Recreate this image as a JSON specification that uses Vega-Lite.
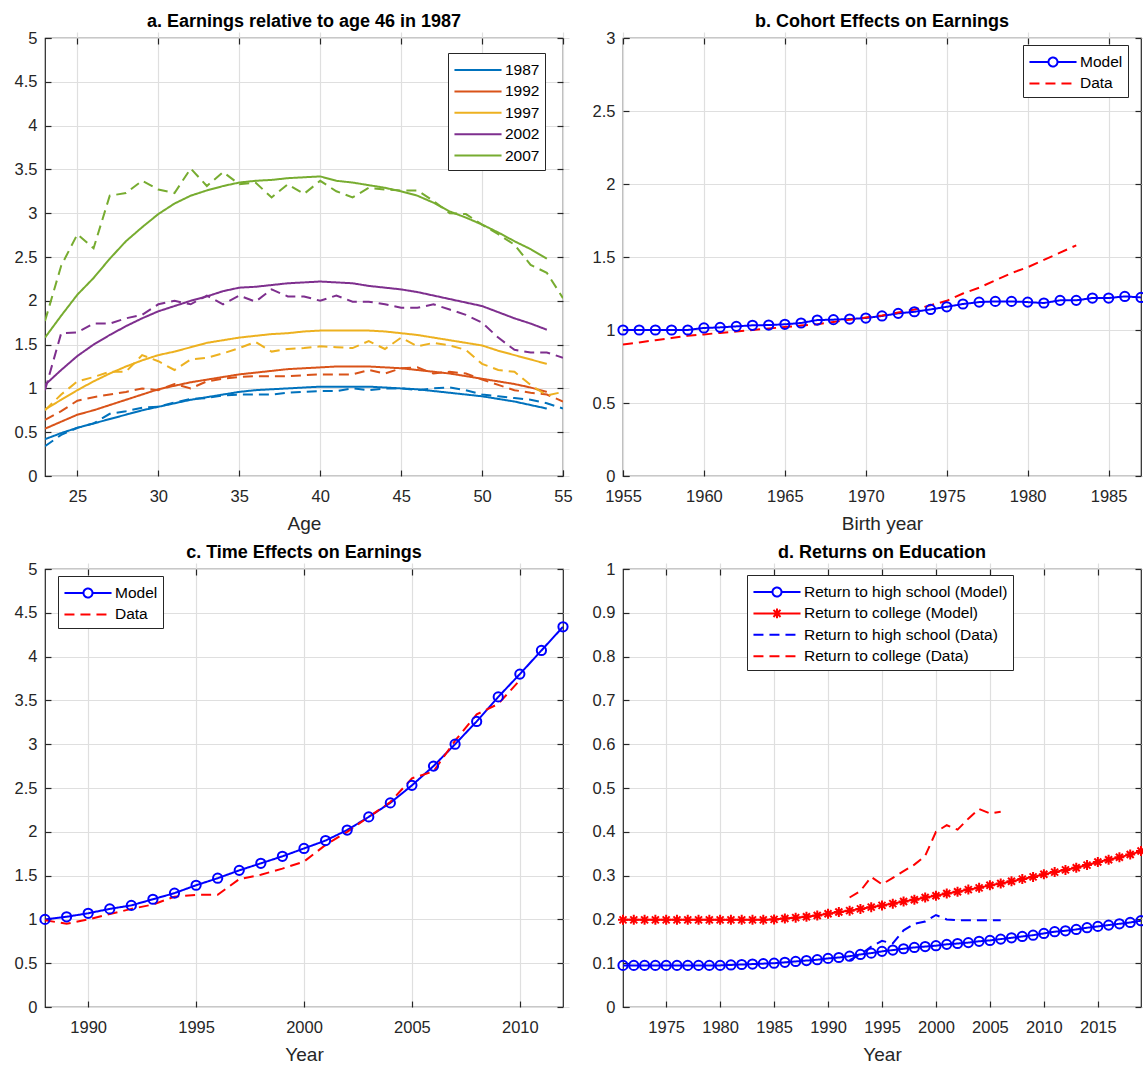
{
"$schema": "https://vega.github.io/schema/vega-lite/v6.json",
"autosize": {"type": "pad"},
"padding": {"left": 13, "top": 12, "right": 2, "bottom": 3},
"background": "white",
"bounds": "flush",
"columns": 2,
"spacing": {"row": 93, "column": 60},
"resolve": {"scale": {"color": "independent", "strokeDash": "independent", "x": "independent", "y": "independent"}, "legend": {"color": "independent"}},
"config": {
  "font": "Liberation Sans",
  "view": {"stroke": "#262626", "strokeWidth": 1.2},
  "axis": {"grid": true, "gridColor": "#dfdfdf", "gridWidth": 1.2, "domain": false, "ticks": true, "tickSize": 6, "offset": -6, "tickColor": "#262626", "tickWidth": 1.2, "labelFont": "Liberation Sans", "labelFontSize": 16.5, "labelColor": "#262626", "labelFlush": false, "labelOverlap": false, "titleFont": "Liberation Sans", "titleFontSize": 19, "titleFontWeight": "normal", "titleColor": "#262626"},
  "axisX": {"labelPadding": 12, "titlePadding": 10},
  "axisY": {"labelPadding": 8},
  "title": {"fontSize": 18, "fontWeight": "bold", "color": "black", "offset": -1, "font": "Liberation Sans"},
  "legend": {"labelFont": "Liberation Sans", "labelFontSize": 15.5, "labelColor": "black", "labelLimit": 400, "strokeColor": "#262626", "fillColor": "white", "padding": 5, "symbolSize": 484, "symbolStrokeWidth": 2, "rowPadding": 0.4, "symbolOffset": 13, "labelOffset": 15}
},
"datasets": {
"a": [
{"x":23,"g":"1987","t":"Model","v":0.42},{"x":24,"g":"1987","t":"Model","v":0.49},{"x":25,"g":"1987","t":"Model","v":0.55},{"x":26,"g":"1987","t":"Model","v":0.60},{"x":27,"g":"1987","t":"Model","v":0.65},{"x":28,"g":"1987","t":"Model","v":0.70},{"x":29,"g":"1987","t":"Model","v":0.75},{"x":30,"g":"1987","t":"Model","v":0.79},{"x":31,"g":"1987","t":"Model","v":0.83},{"x":32,"g":"1987","t":"Model","v":0.87},{"x":33,"g":"1987","t":"Model","v":0.90},{"x":34,"g":"1987","t":"Model","v":0.93},{"x":35,"g":"1987","t":"Model","v":0.96},{"x":36,"g":"1987","t":"Model","v":0.98},{"x":37,"g":"1987","t":"Model","v":0.99},{"x":38,"g":"1987","t":"Model","v":1.00},{"x":39,"g":"1987","t":"Model","v":1.01},{"x":40,"g":"1987","t":"Model","v":1.02},{"x":41,"g":"1987","t":"Model","v":1.02},{"x":42,"g":"1987","t":"Model","v":1.02},{"x":43,"g":"1987","t":"Model","v":1.02},{"x":44,"g":"1987","t":"Model","v":1.01},{"x":45,"g":"1987","t":"Model","v":1.00},{"x":46,"g":"1987","t":"Model","v":0.99},{"x":47,"g":"1987","t":"Model","v":0.97},{"x":48,"g":"1987","t":"Model","v":0.95},{"x":49,"g":"1987","t":"Model","v":0.93},{"x":50,"g":"1987","t":"Model","v":0.91},{"x":51,"g":"1987","t":"Model","v":0.88},{"x":52,"g":"1987","t":"Model","v":0.85},{"x":53,"g":"1987","t":"Model","v":0.81},{"x":54,"g":"1987","t":"Model","v":0.77},
{"x":23,"g":"1987","t":"Data","v":0.34},{"x":24,"g":"1987","t":"Data","v":0.47},{"x":25,"g":"1987","t":"Data","v":0.55},{"x":26,"g":"1987","t":"Data","v":0.60},{"x":27,"g":"1987","t":"Data","v":0.71},{"x":28,"g":"1987","t":"Data","v":0.74},{"x":29,"g":"1987","t":"Data","v":0.78},{"x":30,"g":"1987","t":"Data","v":0.79},{"x":31,"g":"1987","t":"Data","v":0.84},{"x":32,"g":"1987","t":"Data","v":0.88},{"x":33,"g":"1987","t":"Data","v":0.89},{"x":34,"g":"1987","t":"Data","v":0.92},{"x":35,"g":"1987","t":"Data","v":0.93},{"x":36,"g":"1987","t":"Data","v":0.93},{"x":37,"g":"1987","t":"Data","v":0.93},{"x":38,"g":"1987","t":"Data","v":0.95},{"x":39,"g":"1987","t":"Data","v":0.96},{"x":40,"g":"1987","t":"Data","v":0.97},{"x":41,"g":"1987","t":"Data","v":0.97},{"x":42,"g":"1987","t":"Data","v":1.00},{"x":43,"g":"1987","t":"Data","v":0.98},{"x":44,"g":"1987","t":"Data","v":1.00},{"x":45,"g":"1987","t":"Data","v":1.00},{"x":46,"g":"1987","t":"Data","v":0.98},{"x":47,"g":"1987","t":"Data","v":1.00},{"x":48,"g":"1987","t":"Data","v":1.01},{"x":49,"g":"1987","t":"Data","v":0.98},{"x":50,"g":"1987","t":"Data","v":0.93},{"x":51,"g":"1987","t":"Data","v":0.91},{"x":52,"g":"1987","t":"Data","v":0.89},{"x":53,"g":"1987","t":"Data","v":0.87},{"x":54,"g":"1987","t":"Data","v":0.83},{"x":55,"g":"1987","t":"Data","v":0.77},
{"x":23,"g":"1992","t":"Model","v":0.54},{"x":24,"g":"1992","t":"Model","v":0.62},{"x":25,"g":"1992","t":"Model","v":0.70},{"x":26,"g":"1992","t":"Model","v":0.75},{"x":27,"g":"1992","t":"Model","v":0.81},{"x":28,"g":"1992","t":"Model","v":0.87},{"x":29,"g":"1992","t":"Model","v":0.93},{"x":30,"g":"1992","t":"Model","v":0.99},{"x":31,"g":"1992","t":"Model","v":1.03},{"x":32,"g":"1992","t":"Model","v":1.07},{"x":33,"g":"1992","t":"Model","v":1.10},{"x":34,"g":"1992","t":"Model","v":1.13},{"x":35,"g":"1992","t":"Model","v":1.16},{"x":36,"g":"1992","t":"Model","v":1.18},{"x":37,"g":"1992","t":"Model","v":1.20},{"x":38,"g":"1992","t":"Model","v":1.22},{"x":39,"g":"1992","t":"Model","v":1.23},{"x":40,"g":"1992","t":"Model","v":1.24},{"x":41,"g":"1992","t":"Model","v":1.25},{"x":42,"g":"1992","t":"Model","v":1.25},{"x":43,"g":"1992","t":"Model","v":1.25},{"x":44,"g":"1992","t":"Model","v":1.24},{"x":45,"g":"1992","t":"Model","v":1.23},{"x":46,"g":"1992","t":"Model","v":1.21},{"x":47,"g":"1992","t":"Model","v":1.19},{"x":48,"g":"1992","t":"Model","v":1.17},{"x":49,"g":"1992","t":"Model","v":1.14},{"x":50,"g":"1992","t":"Model","v":1.11},{"x":51,"g":"1992","t":"Model","v":1.08},{"x":52,"g":"1992","t":"Model","v":1.05},{"x":53,"g":"1992","t":"Model","v":1.01},{"x":54,"g":"1992","t":"Model","v":0.96},
{"x":23,"g":"1992","t":"Data","v":0.64},{"x":24,"g":"1992","t":"Data","v":0.74},{"x":25,"g":"1992","t":"Data","v":0.86},{"x":26,"g":"1992","t":"Data","v":0.90},{"x":27,"g":"1992","t":"Data","v":0.93},{"x":28,"g":"1992","t":"Data","v":0.96},{"x":29,"g":"1992","t":"Data","v":1.00},{"x":30,"g":"1992","t":"Data","v":0.98},{"x":31,"g":"1992","t":"Data","v":1.05},{"x":32,"g":"1992","t":"Data","v":1.00},{"x":33,"g":"1992","t":"Data","v":1.08},{"x":34,"g":"1992","t":"Data","v":1.11},{"x":35,"g":"1992","t":"Data","v":1.13},{"x":36,"g":"1992","t":"Data","v":1.14},{"x":37,"g":"1992","t":"Data","v":1.14},{"x":38,"g":"1992","t":"Data","v":1.14},{"x":39,"g":"1992","t":"Data","v":1.15},{"x":40,"g":"1992","t":"Data","v":1.16},{"x":41,"g":"1992","t":"Data","v":1.16},{"x":42,"g":"1992","t":"Data","v":1.16},{"x":43,"g":"1992","t":"Data","v":1.21},{"x":44,"g":"1992","t":"Data","v":1.17},{"x":45,"g":"1992","t":"Data","v":1.23},{"x":46,"g":"1992","t":"Data","v":1.24},{"x":47,"g":"1992","t":"Data","v":1.17},{"x":48,"g":"1992","t":"Data","v":1.19},{"x":49,"g":"1992","t":"Data","v":1.17},{"x":50,"g":"1992","t":"Data","v":1.10},{"x":51,"g":"1992","t":"Data","v":1.04},{"x":52,"g":"1992","t":"Data","v":0.98},{"x":53,"g":"1992","t":"Data","v":0.95},{"x":54,"g":"1992","t":"Data","v":0.93},{"x":55,"g":"1992","t":"Data","v":0.85},
{"x":23,"g":"1997","t":"Model","v":0.76},{"x":24,"g":"1997","t":"Model","v":0.87},{"x":25,"g":"1997","t":"Model","v":0.98},{"x":26,"g":"1997","t":"Model","v":1.08},{"x":27,"g":"1997","t":"Model","v":1.17},{"x":28,"g":"1997","t":"Model","v":1.25},{"x":29,"g":"1997","t":"Model","v":1.32},{"x":30,"g":"1997","t":"Model","v":1.38},{"x":31,"g":"1997","t":"Model","v":1.42},{"x":32,"g":"1997","t":"Model","v":1.47},{"x":33,"g":"1997","t":"Model","v":1.52},{"x":34,"g":"1997","t":"Model","v":1.55},{"x":35,"g":"1997","t":"Model","v":1.58},{"x":36,"g":"1997","t":"Model","v":1.60},{"x":37,"g":"1997","t":"Model","v":1.62},{"x":38,"g":"1997","t":"Model","v":1.63},{"x":39,"g":"1997","t":"Model","v":1.65},{"x":40,"g":"1997","t":"Model","v":1.66},{"x":41,"g":"1997","t":"Model","v":1.66},{"x":42,"g":"1997","t":"Model","v":1.66},{"x":43,"g":"1997","t":"Model","v":1.66},{"x":44,"g":"1997","t":"Model","v":1.65},{"x":45,"g":"1997","t":"Model","v":1.63},{"x":46,"g":"1997","t":"Model","v":1.61},{"x":47,"g":"1997","t":"Model","v":1.58},{"x":48,"g":"1997","t":"Model","v":1.55},{"x":49,"g":"1997","t":"Model","v":1.52},{"x":50,"g":"1997","t":"Model","v":1.49},{"x":51,"g":"1997","t":"Model","v":1.43},{"x":52,"g":"1997","t":"Model","v":1.38},{"x":53,"g":"1997","t":"Model","v":1.33},{"x":54,"g":"1997","t":"Model","v":1.28},
{"x":23,"g":"1997","t":"Data","v":0.75},{"x":24,"g":"1997","t":"Data","v":0.93},{"x":25,"g":"1997","t":"Data","v":1.08},{"x":26,"g":"1997","t":"Data","v":1.13},{"x":27,"g":"1997","t":"Data","v":1.19},{"x":28,"g":"1997","t":"Data","v":1.19},{"x":29,"g":"1997","t":"Data","v":1.38},{"x":30,"g":"1997","t":"Data","v":1.31},{"x":31,"g":"1997","t":"Data","v":1.21},{"x":32,"g":"1997","t":"Data","v":1.33},{"x":33,"g":"1997","t":"Data","v":1.35},{"x":34,"g":"1997","t":"Data","v":1.40},{"x":35,"g":"1997","t":"Data","v":1.46},{"x":36,"g":"1997","t":"Data","v":1.53},{"x":37,"g":"1997","t":"Data","v":1.42},{"x":38,"g":"1997","t":"Data","v":1.45},{"x":39,"g":"1997","t":"Data","v":1.46},{"x":40,"g":"1997","t":"Data","v":1.48},{"x":41,"g":"1997","t":"Data","v":1.47},{"x":42,"g":"1997","t":"Data","v":1.46},{"x":43,"g":"1997","t":"Data","v":1.54},{"x":44,"g":"1997","t":"Data","v":1.45},{"x":45,"g":"1997","t":"Data","v":1.58},{"x":46,"g":"1997","t":"Data","v":1.48},{"x":47,"g":"1997","t":"Data","v":1.52},{"x":48,"g":"1997","t":"Data","v":1.49},{"x":49,"g":"1997","t":"Data","v":1.44},{"x":50,"g":"1997","t":"Data","v":1.28},{"x":51,"g":"1997","t":"Data","v":1.21},{"x":52,"g":"1997","t":"Data","v":1.19},{"x":53,"g":"1997","t":"Data","v":1.04},{"x":54,"g":"1997","t":"Data","v":0.92},{"x":55,"g":"1997","t":"Data","v":0.96},
{"x":23,"g":"2002","t":"Model","v":1.04},{"x":24,"g":"2002","t":"Model","v":1.21},{"x":25,"g":"2002","t":"Model","v":1.37},{"x":26,"g":"2002","t":"Model","v":1.50},{"x":27,"g":"2002","t":"Model","v":1.61},{"x":28,"g":"2002","t":"Model","v":1.71},{"x":29,"g":"2002","t":"Model","v":1.80},{"x":30,"g":"2002","t":"Model","v":1.88},{"x":31,"g":"2002","t":"Model","v":1.94},{"x":32,"g":"2002","t":"Model","v":2.00},{"x":33,"g":"2002","t":"Model","v":2.05},{"x":34,"g":"2002","t":"Model","v":2.11},{"x":35,"g":"2002","t":"Model","v":2.15},{"x":36,"g":"2002","t":"Model","v":2.16},{"x":37,"g":"2002","t":"Model","v":2.18},{"x":38,"g":"2002","t":"Model","v":2.20},{"x":39,"g":"2002","t":"Model","v":2.21},{"x":40,"g":"2002","t":"Model","v":2.22},{"x":41,"g":"2002","t":"Model","v":2.21},{"x":42,"g":"2002","t":"Model","v":2.20},{"x":43,"g":"2002","t":"Model","v":2.17},{"x":44,"g":"2002","t":"Model","v":2.15},{"x":45,"g":"2002","t":"Model","v":2.13},{"x":46,"g":"2002","t":"Model","v":2.10},{"x":47,"g":"2002","t":"Model","v":2.06},{"x":48,"g":"2002","t":"Model","v":2.02},{"x":49,"g":"2002","t":"Model","v":1.98},{"x":50,"g":"2002","t":"Model","v":1.94},{"x":51,"g":"2002","t":"Model","v":1.87},{"x":52,"g":"2002","t":"Model","v":1.80},{"x":53,"g":"2002","t":"Model","v":1.74},{"x":54,"g":"2002","t":"Model","v":1.67},
{"x":23,"g":"2002","t":"Data","v":0.98},{"x":24,"g":"2002","t":"Data","v":1.63},{"x":25,"g":"2002","t":"Data","v":1.64},{"x":26,"g":"2002","t":"Data","v":1.74},{"x":27,"g":"2002","t":"Data","v":1.74},{"x":28,"g":"2002","t":"Data","v":1.80},{"x":29,"g":"2002","t":"Data","v":1.84},{"x":30,"g":"2002","t":"Data","v":1.96},{"x":31,"g":"2002","t":"Data","v":2.00},{"x":32,"g":"2002","t":"Data","v":1.96},{"x":33,"g":"2002","t":"Data","v":2.06},{"x":34,"g":"2002","t":"Data","v":1.96},{"x":35,"g":"2002","t":"Data","v":2.06},{"x":36,"g":"2002","t":"Data","v":1.99},{"x":37,"g":"2002","t":"Data","v":2.13},{"x":38,"g":"2002","t":"Data","v":2.05},{"x":39,"g":"2002","t":"Data","v":2.05},{"x":40,"g":"2002","t":"Data","v":2.00},{"x":41,"g":"2002","t":"Data","v":2.06},{"x":42,"g":"2002","t":"Data","v":1.99},{"x":43,"g":"2002","t":"Data","v":1.99},{"x":44,"g":"2002","t":"Data","v":1.96},{"x":45,"g":"2002","t":"Data","v":1.92},{"x":46,"g":"2002","t":"Data","v":1.92},{"x":47,"g":"2002","t":"Data","v":1.96},{"x":48,"g":"2002","t":"Data","v":1.90},{"x":49,"g":"2002","t":"Data","v":1.84},{"x":50,"g":"2002","t":"Data","v":1.75},{"x":51,"g":"2002","t":"Data","v":1.58},{"x":52,"g":"2002","t":"Data","v":1.44},{"x":53,"g":"2002","t":"Data","v":1.41},{"x":54,"g":"2002","t":"Data","v":1.41},{"x":55,"g":"2002","t":"Data","v":1.35},
{"x":23,"g":"2007","t":"Model","v":1.58},{"x":24,"g":"2007","t":"Model","v":1.83},{"x":25,"g":"2007","t":"Model","v":2.07},{"x":26,"g":"2007","t":"Model","v":2.26},{"x":27,"g":"2007","t":"Model","v":2.48},{"x":28,"g":"2007","t":"Model","v":2.68},{"x":29,"g":"2007","t":"Model","v":2.84},{"x":30,"g":"2007","t":"Model","v":2.99},{"x":31,"g":"2007","t":"Model","v":3.11},{"x":32,"g":"2007","t":"Model","v":3.20},{"x":33,"g":"2007","t":"Model","v":3.26},{"x":34,"g":"2007","t":"Model","v":3.31},{"x":35,"g":"2007","t":"Model","v":3.35},{"x":36,"g":"2007","t":"Model","v":3.37},{"x":37,"g":"2007","t":"Model","v":3.38},{"x":38,"g":"2007","t":"Model","v":3.40},{"x":39,"g":"2007","t":"Model","v":3.41},{"x":40,"g":"2007","t":"Model","v":3.42},{"x":41,"g":"2007","t":"Model","v":3.37},{"x":42,"g":"2007","t":"Model","v":3.35},{"x":43,"g":"2007","t":"Model","v":3.32},{"x":44,"g":"2007","t":"Model","v":3.29},{"x":45,"g":"2007","t":"Model","v":3.25},{"x":46,"g":"2007","t":"Model","v":3.20},{"x":47,"g":"2007","t":"Model","v":3.12},{"x":48,"g":"2007","t":"Model","v":3.02},{"x":49,"g":"2007","t":"Model","v":2.95},{"x":50,"g":"2007","t":"Model","v":2.87},{"x":51,"g":"2007","t":"Model","v":2.78},{"x":52,"g":"2007","t":"Model","v":2.68},{"x":53,"g":"2007","t":"Model","v":2.59},{"x":54,"g":"2007","t":"Model","v":2.48},
{"x":23,"g":"2007","t":"Data","v":1.77},{"x":24,"g":"2007","t":"Data","v":2.40},{"x":25,"g":"2007","t":"Data","v":2.76},{"x":26,"g":"2007","t":"Data","v":2.60},{"x":27,"g":"2007","t":"Data","v":3.20},{"x":28,"g":"2007","t":"Data","v":3.23},{"x":29,"g":"2007","t":"Data","v":3.37},{"x":30,"g":"2007","t":"Data","v":3.27},{"x":31,"g":"2007","t":"Data","v":3.23},{"x":32,"g":"2007","t":"Data","v":3.51},{"x":33,"g":"2007","t":"Data","v":3.31},{"x":34,"g":"2007","t":"Data","v":3.47},{"x":35,"g":"2007","t":"Data","v":3.33},{"x":36,"g":"2007","t":"Data","v":3.35},{"x":37,"g":"2007","t":"Data","v":3.18},{"x":38,"g":"2007","t":"Data","v":3.33},{"x":39,"g":"2007","t":"Data","v":3.22},{"x":40,"g":"2007","t":"Data","v":3.37},{"x":41,"g":"2007","t":"Data","v":3.25},{"x":42,"g":"2007","t":"Data","v":3.18},{"x":43,"g":"2007","t":"Data","v":3.29},{"x":44,"g":"2007","t":"Data","v":3.27},{"x":45,"g":"2007","t":"Data","v":3.26},{"x":46,"g":"2007","t":"Data","v":3.26},{"x":47,"g":"2007","t":"Data","v":3.14},{"x":48,"g":"2007","t":"Data","v":3.00},{"x":49,"g":"2007","t":"Data","v":2.99},{"x":50,"g":"2007","t":"Data","v":2.87},{"x":51,"g":"2007","t":"Data","v":2.76},{"x":52,"g":"2007","t":"Data","v":2.64},{"x":53,"g":"2007","t":"Data","v":2.41},{"x":54,"g":"2007","t":"Data","v":2.32},{"x":55,"g":"2007","t":"Data","v":2.03}
],
"b": [
{"x":1955,"s":"Model","v":1.0},{"x":1956,"s":"Model","v":1.0},{"x":1957,"s":"Model","v":1.0},{"x":1958,"s":"Model","v":1.0},{"x":1959,"s":"Model","v":1.0},{"x":1960,"s":"Model","v":1.014},{"x":1961,"s":"Model","v":1.018},{"x":1962,"s":"Model","v":1.025},{"x":1963,"s":"Model","v":1.032},{"x":1964,"s":"Model","v":1.034},{"x":1965,"s":"Model","v":1.039},{"x":1966,"s":"Model","v":1.048},{"x":1967,"s":"Model","v":1.068},{"x":1968,"s":"Model","v":1.071},{"x":1969,"s":"Model","v":1.075},{"x":1970,"s":"Model","v":1.082},{"x":1971,"s":"Model","v":1.096},{"x":1972,"s":"Model","v":1.114},{"x":1973,"s":"Model","v":1.125},{"x":1974,"s":"Model","v":1.141},{"x":1975,"s":"Model","v":1.159},{"x":1976,"s":"Model","v":1.178},{"x":1977,"s":"Model","v":1.191},{"x":1978,"s":"Model","v":1.196},{"x":1979,"s":"Model","v":1.196},{"x":1980,"s":"Model","v":1.191},{"x":1981,"s":"Model","v":1.185},{"x":1982,"s":"Model","v":1.203},{"x":1983,"s":"Model","v":1.203},{"x":1984,"s":"Model","v":1.219},{"x":1985,"s":"Model","v":1.219},{"x":1986,"s":"Model","v":1.230},{"x":1987,"s":"Model","v":1.223},
{"x":1955,"s":"Data","v":0.90},{"x":1956,"s":"Data","v":0.915},{"x":1957,"s":"Data","v":0.93},{"x":1958,"s":"Data","v":0.945},{"x":1959,"s":"Data","v":0.96},{"x":1960,"s":"Data","v":0.97},{"x":1961,"s":"Data","v":0.98},{"x":1962,"s":"Data","v":0.99},{"x":1963,"s":"Data","v":1.0},{"x":1964,"s":"Data","v":1.01},{"x":1965,"s":"Data","v":1.02},{"x":1966,"s":"Data","v":1.03},{"x":1967,"s":"Data","v":1.04},{"x":1968,"s":"Data","v":1.055},{"x":1969,"s":"Data","v":1.07},{"x":1970,"s":"Data","v":1.085},{"x":1971,"s":"Data","v":1.10},{"x":1972,"s":"Data","v":1.12},{"x":1973,"s":"Data","v":1.14},{"x":1974,"s":"Data","v":1.17},{"x":1975,"s":"Data","v":1.20},{"x":1976,"s":"Data","v":1.25},{"x":1977,"s":"Data","v":1.29},{"x":1978,"s":"Data","v":1.34},{"x":1979,"s":"Data","v":1.39},{"x":1980,"s":"Data","v":1.43},{"x":1981,"s":"Data","v":1.48},{"x":1982,"s":"Data","v":1.53},{"x":1983,"s":"Data","v":1.58}
],
"c": [
{"x":1988,"s":"Model","v":1.0},{"x":1989,"s":"Model","v":1.03},{"x":1990,"s":"Model","v":1.07},{"x":1991,"s":"Model","v":1.12},{"x":1992,"s":"Model","v":1.16},{"x":1993,"s":"Model","v":1.23},{"x":1994,"s":"Model","v":1.30},{"x":1995,"s":"Model","v":1.39},{"x":1996,"s":"Model","v":1.47},{"x":1997,"s":"Model","v":1.56},{"x":1998,"s":"Model","v":1.64},{"x":1999,"s":"Model","v":1.72},{"x":2000,"s":"Model","v":1.81},{"x":2001,"s":"Model","v":1.90},{"x":2002,"s":"Model","v":2.02},{"x":2003,"s":"Model","v":2.17},{"x":2004,"s":"Model","v":2.33},{"x":2005,"s":"Model","v":2.53},{"x":2006,"s":"Model","v":2.75},{"x":2007,"s":"Model","v":3.0},{"x":2008,"s":"Model","v":3.26},{"x":2009,"s":"Model","v":3.54},{"x":2010,"s":"Model","v":3.80},{"x":2011,"s":"Model","v":4.07},{"x":2012,"s":"Model","v":4.34},
{"x":1988,"s":"Data","v":0.99},{"x":1989,"s":"Data","v":0.95},{"x":1990,"s":"Data","v":1.0},{"x":1991,"s":"Data","v":1.06},{"x":1992,"s":"Data","v":1.12},{"x":1993,"s":"Data","v":1.17},{"x":1994,"s":"Data","v":1.26},{"x":1995,"s":"Data","v":1.28},{"x":1996,"s":"Data","v":1.28},{"x":1997,"s":"Data","v":1.46},{"x":1998,"s":"Data","v":1.51},{"x":1999,"s":"Data","v":1.58},{"x":2000,"s":"Data","v":1.66},{"x":2001,"s":"Data","v":1.85},{"x":2002,"s":"Data","v":2.0},{"x":2003,"s":"Data","v":2.17},{"x":2004,"s":"Data","v":2.34},{"x":2005,"s":"Data","v":2.61},{"x":2006,"s":"Data","v":2.69},{"x":2007,"s":"Data","v":3.04},{"x":2008,"s":"Data","v":3.34},{"x":2009,"s":"Data","v":3.46},{"x":2010,"s":"Data","v":3.73}
],
"d": [
{"x":1971,"s":"Return to high school (Model)","v":0.095},{"x":1972,"s":"Return to high school (Model)","v":0.095},{"x":1973,"s":"Return to high school (Model)","v":0.095},{"x":1974,"s":"Return to high school (Model)","v":0.095},{"x":1975,"s":"Return to high school (Model)","v":0.095},{"x":1976,"s":"Return to high school (Model)","v":0.095},{"x":1977,"s":"Return to high school (Model)","v":0.095},{"x":1978,"s":"Return to high school (Model)","v":0.095},{"x":1979,"s":"Return to high school (Model)","v":0.095},{"x":1980,"s":"Return to high school (Model)","v":0.095},{"x":1981,"s":"Return to high school (Model)","v":0.096},{"x":1982,"s":"Return to high school (Model)","v":0.097},{"x":1983,"s":"Return to high school (Model)","v":0.098},{"x":1984,"s":"Return to high school (Model)","v":0.099},{"x":1985,"s":"Return to high school (Model)","v":0.100},{"x":1986,"s":"Return to high school (Model)","v":0.102},{"x":1987,"s":"Return to high school (Model)","v":0.104},{"x":1988,"s":"Return to high school (Model)","v":0.106},{"x":1989,"s":"Return to high school (Model)","v":0.108},{"x":1990,"s":"Return to high school (Model)","v":0.111},{"x":1991,"s":"Return to high school (Model)","v":0.113},{"x":1992,"s":"Return to high school (Model)","v":0.116},{"x":1993,"s":"Return to high school (Model)","v":0.120},{"x":1994,"s":"Return to high school (Model)","v":0.123},{"x":1995,"s":"Return to high school (Model)","v":0.127},{"x":1996,"s":"Return to high school (Model)","v":0.130},{"x":1997,"s":"Return to high school (Model)","v":0.133},{"x":1998,"s":"Return to high school (Model)","v":0.136},{"x":1999,"s":"Return to high school (Model)","v":0.138},{"x":2000,"s":"Return to high school (Model)","v":0.140},{"x":2001,"s":"Return to high school (Model)","v":0.143},{"x":2002,"s":"Return to high school (Model)","v":0.145},{"x":2003,"s":"Return to high school (Model)","v":0.147},{"x":2004,"s":"Return to high school (Model)","v":0.150},{"x":2005,"s":"Return to high school (Model)","v":0.152},{"x":2006,"s":"Return to high school (Model)","v":0.155},{"x":2007,"s":"Return to high school (Model)","v":0.158},{"x":2008,"s":"Return to high school (Model)","v":0.161},{"x":2009,"s":"Return to high school (Model)","v":0.164},{"x":2010,"s":"Return to high school (Model)","v":0.168},{"x":2011,"s":"Return to high school (Model)","v":0.172},{"x":2012,"s":"Return to high school (Model)","v":0.174},{"x":2013,"s":"Return to high school (Model)","v":0.177},{"x":2014,"s":"Return to high school (Model)","v":0.181},{"x":2015,"s":"Return to high school (Model)","v":0.184},{"x":2016,"s":"Return to high school (Model)","v":0.187},{"x":2017,"s":"Return to high school (Model)","v":0.190},{"x":2018,"s":"Return to high school (Model)","v":0.193},{"x":2019,"s":"Return to high school (Model)","v":0.197},
{"x":1971,"s":"Return to college (Model)","v":0.199},{"x":1972,"s":"Return to college (Model)","v":0.199},{"x":1973,"s":"Return to college (Model)","v":0.199},{"x":1974,"s":"Return to college (Model)","v":0.199},{"x":1975,"s":"Return to college (Model)","v":0.199},{"x":1976,"s":"Return to college (Model)","v":0.199},{"x":1977,"s":"Return to college (Model)","v":0.199},{"x":1978,"s":"Return to college (Model)","v":0.199},{"x":1979,"s":"Return to college (Model)","v":0.199},{"x":1980,"s":"Return to college (Model)","v":0.199},{"x":1981,"s":"Return to college (Model)","v":0.199},{"x":1982,"s":"Return to college (Model)","v":0.199},{"x":1983,"s":"Return to college (Model)","v":0.199},{"x":1984,"s":"Return to college (Model)","v":0.199},{"x":1985,"s":"Return to college (Model)","v":0.200},{"x":1986,"s":"Return to college (Model)","v":0.202},{"x":1987,"s":"Return to college (Model)","v":0.204},{"x":1988,"s":"Return to college (Model)","v":0.206},{"x":1989,"s":"Return to college (Model)","v":0.209},{"x":1990,"s":"Return to college (Model)","v":0.213},{"x":1991,"s":"Return to college (Model)","v":0.217},{"x":1992,"s":"Return to college (Model)","v":0.220},{"x":1993,"s":"Return to college (Model)","v":0.224},{"x":1994,"s":"Return to college (Model)","v":0.228},{"x":1995,"s":"Return to college (Model)","v":0.232},{"x":1996,"s":"Return to college (Model)","v":0.236},{"x":1997,"s":"Return to college (Model)","v":0.241},{"x":1998,"s":"Return to college (Model)","v":0.245},{"x":1999,"s":"Return to college (Model)","v":0.250},{"x":2000,"s":"Return to college (Model)","v":0.254},{"x":2001,"s":"Return to college (Model)","v":0.259},{"x":2002,"s":"Return to college (Model)","v":0.263},{"x":2003,"s":"Return to college (Model)","v":0.268},{"x":2004,"s":"Return to college (Model)","v":0.272},{"x":2005,"s":"Return to college (Model)","v":0.278},{"x":2006,"s":"Return to college (Model)","v":0.282},{"x":2007,"s":"Return to college (Model)","v":0.287},{"x":2008,"s":"Return to college (Model)","v":0.292},{"x":2009,"s":"Return to college (Model)","v":0.297},{"x":2010,"s":"Return to college (Model)","v":0.303},{"x":2011,"s":"Return to college (Model)","v":0.308},{"x":2012,"s":"Return to college (Model)","v":0.313},{"x":2013,"s":"Return to college (Model)","v":0.318},{"x":2014,"s":"Return to college (Model)","v":0.324},{"x":2015,"s":"Return to college (Model)","v":0.331},{"x":2016,"s":"Return to college (Model)","v":0.336},{"x":2017,"s":"Return to college (Model)","v":0.342},{"x":2018,"s":"Return to college (Model)","v":0.348},{"x":2019,"s":"Return to college (Model)","v":0.356},
{"x":1992,"s":"Return to high school (Data)","v":0.107},{"x":1993,"s":"Return to high school (Data)","v":0.12},{"x":1994,"s":"Return to high school (Data)","v":0.138},{"x":1995,"s":"Return to high school (Data)","v":0.151},{"x":1996,"s":"Return to high school (Data)","v":0.145},{"x":1997,"s":"Return to high school (Data)","v":0.175},{"x":1998,"s":"Return to high school (Data)","v":0.19},{"x":1999,"s":"Return to high school (Data)","v":0.195},{"x":2000,"s":"Return to high school (Data)","v":0.21},{"x":2001,"s":"Return to high school (Data)","v":0.20},{"x":2002,"s":"Return to high school (Data)","v":0.198},{"x":2003,"s":"Return to high school (Data)","v":0.198},{"x":2004,"s":"Return to high school (Data)","v":0.198},{"x":2005,"s":"Return to high school (Data)","v":0.198},{"x":2006,"s":"Return to high school (Data)","v":0.198},
{"x":1992,"s":"Return to college (Data)","v":0.25},{"x":1993,"s":"Return to college (Data)","v":0.265},{"x":1994,"s":"Return to college (Data)","v":0.297},{"x":1995,"s":"Return to college (Data)","v":0.28},{"x":1996,"s":"Return to college (Data)","v":0.295},{"x":1997,"s":"Return to college (Data)","v":0.31},{"x":1998,"s":"Return to college (Data)","v":0.325},{"x":1999,"s":"Return to college (Data)","v":0.345},{"x":2000,"s":"Return to college (Data)","v":0.40},{"x":2001,"s":"Return to college (Data)","v":0.415},{"x":2002,"s":"Return to college (Data)","v":0.405},{"x":2003,"s":"Return to college (Data)","v":0.43},{"x":2004,"s":"Return to college (Data)","v":0.452},{"x":2005,"s":"Return to college (Data)","v":0.442},{"x":2006,"s":"Return to college (Data)","v":0.446}
]
},
"concat": [
{
  "width": 518, "height": 438,
  "title": "a. Earnings relative to age 46 in 1987",
  "data": {"name": "a"},
  "resolve": {"axis": {"x": "independent", "y": "independent"}},
  "layer": [
    {"mark": {"type": "line", "strokeWidth": 2, "clip": true},
     "encoding": {
       "x": {"field": "x", "type": "quantitative", "scale": {"domain": [23, 55], "nice": false, "zero": false}, "axis": {"title": "Age", "values": [25,30,35,40,45,50,55], "format": "d"}},
       "y": {"field": "v", "type": "quantitative", "scale": {"domain": [0, 5], "nice": false}, "axis": {"title": null, "values": [0,0.5,1,1.5,2,2.5,3,3.5,4,4.5,5], "format": "~g"}},
       "color": {"field": "g", "type": "nominal", "scale": {"domain": ["1987","1992","1997","2002","2007"], "range": ["#0072BD","#D95319","#EDB120","#7E2F8E","#77AC30"]},
         "legend": {"title": null, "orient": "none", "legendX": 403, "legendY": 15,
           "encode": {"symbols": {"update": {"shape": {"value": "M-2.14,0H2.14"}, "fill": {"value": "transparent"}}}}}},
       "strokeDash": {"field": "t", "type": "nominal", "scale": {"domain": ["Model","Data"], "range": [[1,0],[10,6]]}, "legend": null}
     }},
    {"mark": {"type": "point", "opacity": 0},
     "encoding": {
       "x": {"field": "x", "type": "quantitative", "axis": {"orient": "top", "labels": false, "grid": false, "title": null, "values": [25,30,35,40,45,50,55]}},
       "y": {"field": "v", "type": "quantitative", "axis": {"orient": "right", "labels": false, "grid": false, "title": null, "values": [0,0.5,1,1.5,2,2.5,3,3.5,4,4.5,5]}}
     }}
  ]
},
{
  "width": 518, "height": 438,
  "title": "b. Cohort Effects on Earnings",
  "data": {"name": "b"},
  "resolve": {"axis": {"x": "independent", "y": "independent"}},
  "layer": [
    {"mark": {"type": "line", "strokeWidth": 2, "clip": true},
     "encoding": {
       "x": {"field": "x", "type": "quantitative", "scale": {"domain": [1955, 1987], "nice": false, "zero": false}, "axis": {"title": "Birth year", "values": [1955,1960,1965,1970,1975,1980,1985], "format": "d"}},
       "y": {"field": "v", "type": "quantitative", "scale": {"domain": [0, 3], "nice": false}, "axis": {"title": null, "values": [0,0.5,1,1.5,2,2.5,3], "format": "~g"}},
       "color": {"field": "s", "type": "nominal", "scale": {"domain": ["Model","Data"], "range": ["#0000FF","#FF0000"]},
         "legend": {"title": null, "orient": "none", "legendX": 400, "legendY": 7,
           "encode": {"symbols": {"update": {
             "shape": {"signal": "datum.value == 'Model' ? 'M-2.14,0H-0.41M0.41,0H2.14M0.41,0A0.41,0.41 0 1,1 -0.41,0A0.41,0.41 0 1,1 0.41,0' : 'M-2.14,0H2.14'"},
             "strokeDash": {"signal": "datum.value == 'Model' ? [1,0] : [10,6]"},
             "fill": {"value": "transparent"}}}}}},
       "strokeDash": {"field": "s", "type": "nominal", "scale": {"domain": ["Model","Data"], "range": [[1,0],[10,6]]}, "legend": null}
     }},
    {"transform": [{"filter": "datum.s == 'Model'"}],
     "mark": {"type": "point", "shape": "circle", "filled": false, "size": 85, "strokeWidth": 2, "color": "#0000FF", "opacity": 1},
     "encoding": {
       "x": {"field": "x", "type": "quantitative", "axis": {"orient": "top", "labels": false, "grid": false, "title": null, "values": [1955,1960,1965,1970,1975,1980,1985]}},
       "y": {"field": "v", "type": "quantitative", "axis": {"orient": "right", "labels": false, "grid": false, "title": null, "values": [0,0.5,1,1.5,2,2.5,3]}}
     }}
  ]
},
{
  "width": 518, "height": 438,
  "title": "c. Time Effects on Earnings",
  "data": {"name": "c"},
  "resolve": {"axis": {"x": "independent", "y": "independent"}},
  "layer": [
    {"mark": {"type": "line", "strokeWidth": 2, "clip": true},
     "encoding": {
       "x": {"field": "x", "type": "quantitative", "scale": {"domain": [1988, 2012], "nice": false, "zero": false}, "axis": {"title": "Year", "values": [1990,1995,2000,2005,2010], "format": "d"}},
       "y": {"field": "v", "type": "quantitative", "scale": {"domain": [0, 5], "nice": false}, "axis": {"title": null, "values": [0,0.5,1,1.5,2,2.5,3,3.5,4,4.5,5], "format": "~g"}},
       "color": {"field": "s", "type": "nominal", "scale": {"domain": ["Model","Data"], "range": ["#0000FF","#FF0000"]},
         "legend": {"title": null, "orient": "none", "legendX": 13, "legendY": 7,
           "encode": {"symbols": {"update": {
             "shape": {"signal": "datum.value == 'Model' ? 'M-2.14,0H-0.41M0.41,0H2.14M0.41,0A0.41,0.41 0 1,1 -0.41,0A0.41,0.41 0 1,1 0.41,0' : 'M-2.14,0H2.14'"},
             "strokeDash": {"signal": "datum.value == 'Model' ? [1,0] : [10,6]"},
             "fill": {"value": "transparent"}}}}}},
       "strokeDash": {"field": "s", "type": "nominal", "scale": {"domain": ["Model","Data"], "range": [[1,0],[10,6]]}, "legend": null}
     }},
    {"transform": [{"filter": "datum.s == 'Model'"}],
     "mark": {"type": "point", "shape": "circle", "filled": false, "size": 85, "strokeWidth": 2, "color": "#0000FF", "opacity": 1},
     "encoding": {
       "x": {"field": "x", "type": "quantitative", "axis": {"orient": "top", "labels": false, "grid": false, "title": null, "values": [1990,1995,2000,2005,2010]}},
       "y": {"field": "v", "type": "quantitative", "axis": {"orient": "right", "labels": false, "grid": false, "title": null, "values": [0,0.5,1,1.5,2,2.5,3,3.5,4,4.5,5]}}
     }}
  ]
},
{
  "width": 518, "height": 438,
  "title": "d. Returns on Education",
  "data": {"name": "d"},
  "resolve": {"axis": {"x": "independent", "y": "independent"}},
  "layer": [
    {"mark": {"type": "line", "strokeWidth": 2, "clip": true},
     "encoding": {
       "x": {"field": "x", "type": "quantitative", "scale": {"domain": [1971, 2019], "nice": false, "zero": false}, "axis": {"title": "Year", "values": [1975,1980,1985,1990,1995,2000,2005,2010,2015], "format": "d"}},
       "y": {"field": "v", "type": "quantitative", "scale": {"domain": [0, 1], "nice": false}, "axis": {"title": null, "values": [0,0.1,0.2,0.3,0.4,0.5,0.6,0.7,0.8,0.9,1], "format": "~g"}},
       "color": {"field": "s", "type": "nominal", "scale": {"domain": ["Return to high school (Model)","Return to college (Model)","Return to high school (Data)","Return to college (Data)"], "range": ["#0000FF","#FF0000","#0000FF","#FF0000"]},
         "legend": {"title": null, "orient": "none", "legendX": 124, "legendY": 6,
           "encode": {"symbols": {"update": {
             "shape": {"signal": "datum.value == 'Return to high school (Model)' ? 'M-2.14,0H-0.41M0.41,0H2.14M0.41,0A0.41,0.41 0 1,1 -0.41,0A0.41,0.41 0 1,1 0.41,0' : datum.value == 'Return to college (Model)' ? 'M-2.14,0H2.14M0,-0.45V0.45M-0.32,-0.32L0.32,0.32M-0.32,0.32L0.32,-0.32' : 'M-2.14,0H2.14'"},
             "strokeDash": {"signal": "indexof(datum.value, 'Data') >= 0 ? [10,6] : [1,0]"},
             "fill": {"value": "transparent"}}}}}},
       "strokeDash": {"field": "s", "type": "nominal", "scale": {"domain": ["Return to high school (Model)","Return to college (Model)","Return to high school (Data)","Return to college (Data)"], "range": [[1,0],[1,0],[10,6],[10,6]]}, "legend": null}
     }},
    {"transform": [{"filter": "datum.s == 'Return to high school (Model)'"}],
     "mark": {"type": "point", "shape": "circle", "filled": false, "size": 85, "strokeWidth": 2, "color": "#0000FF", "opacity": 1},
     "encoding": {
       "x": {"field": "x", "type": "quantitative", "axis": {"orient": "top", "labels": false, "grid": false, "title": null, "values": [1975,1980,1985,1990,1995,2000,2005,2010,2015]}},
       "y": {"field": "v", "type": "quantitative", "axis": {"orient": "right", "labels": false, "grid": false, "title": null, "values": [0,0.1,0.2,0.3,0.4,0.5,0.6,0.7,0.8,0.9,1]}}
     }},
    {"transform": [{"filter": "datum.s == 'Return to college (Model)'"}],
     "mark": {"type": "point", "shape": "M-1,0H1M0,-1V1M-0.7,-0.7L0.7,0.7M-0.7,0.7L0.7,-0.7", "filled": false, "size": 100, "strokeWidth": 2, "color": "#FF0000", "opacity": 1},
     "encoding": {
       "x": {"field": "x", "type": "quantitative", "axis": null},
       "y": {"field": "v", "type": "quantitative", "axis": null}
     }}
  ]
}
]
}
